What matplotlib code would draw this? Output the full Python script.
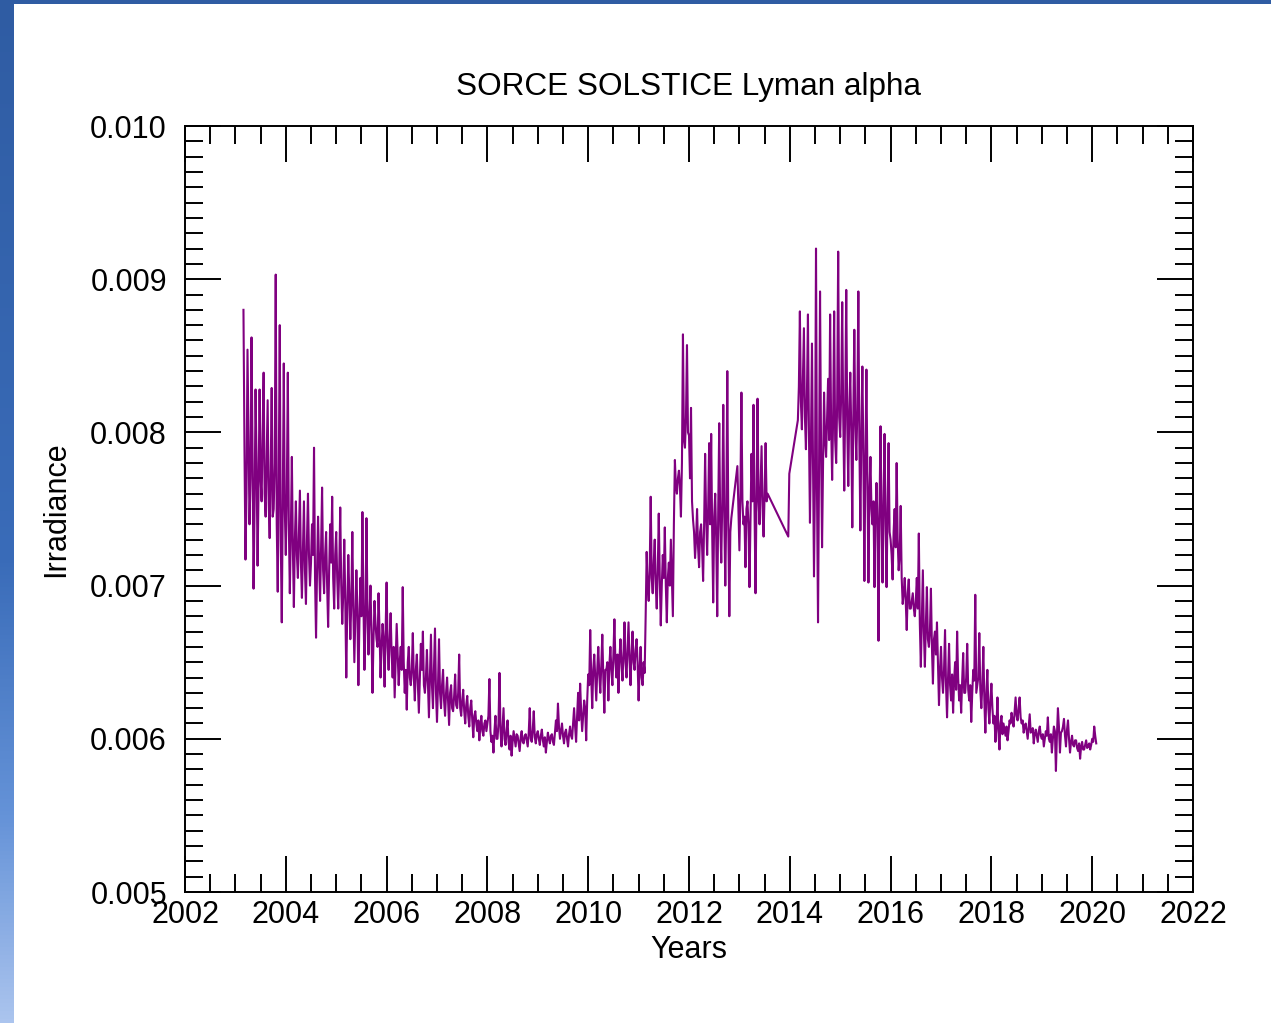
import numpy as np
import matplotlib.pyplot as plt
from matplotlib.colors import LinearSegmentedColormap
from matplotlib.ticker import MultipleLocator, FormatStrFormatter

# Lyman alpha irradiance (units of 1e-3), sampled every 0.02 yr from each block start
step = 0.02

irr_2003 = [8.80, 7.90, 7.17, 7.60, 8.54, 7.95, 7.40, 7.70, 8.62, 7.85, 6.98, 7.50, 8.28, 7.80,
            7.13, 7.65, 8.28, 7.70, 7.55, 8.00, 8.39, 7.60, 7.45, 7.85, 8.21, 7.55, 7.31, 7.75,
            8.29, 7.45, 7.50, 7.80, 9.03, 7.40, 6.96, 7.70, 8.70, 7.30, 6.76, 7.55, 8.45, 7.50]
irr_2004 = [7.20, 7.60, 8.39, 7.40, 6.95, 7.35, 7.84, 7.25, 6.86, 7.30, 7.55, 7.20, 7.05, 7.35,
            7.62, 7.15, 6.92, 7.25, 7.55, 7.10, 6.88, 7.30, 7.60, 7.20, 7.00, 7.15, 7.40, 7.20,
            7.90, 7.05, 6.66, 7.10, 7.45, 7.15, 6.90, 7.25, 7.64, 7.10, 6.95, 7.20, 7.35, 7.00,
            6.73, 7.10, 7.40, 7.15, 7.58, 7.05, 6.85, 7.20]
irr_2005 = [7.35, 7.05, 6.85, 7.10, 7.51, 7.00, 6.75, 6.95, 7.30, 6.90, 6.40, 6.85, 7.20, 6.95,
            6.65, 6.90, 7.35, 6.85, 6.50, 6.80, 7.10, 6.85, 6.35, 6.75, 7.05, 6.80, 7.48, 6.90,
            6.45, 6.75, 7.44, 6.85, 6.55, 6.80, 7.00, 6.70, 6.30, 6.65, 6.90, 6.75, 6.65, 6.60,
            6.95, 6.70, 6.40, 6.60, 6.75, 6.65, 6.34, 6.70]
irr_2006 = [7.02, 6.60, 6.45, 6.65, 6.82, 6.55, 6.40, 6.60, 6.27, 6.50, 6.75, 6.55, 6.35, 6.50,
            6.60, 6.45, 6.99, 6.50, 6.30, 6.45, 6.19, 6.50, 6.60, 6.40, 6.35, 6.45, 6.69, 6.40,
            6.25, 6.45, 6.55, 6.35, 6.17, 6.40, 6.62, 6.45, 6.70, 6.35, 6.30, 6.40, 6.58, 6.35,
            6.14, 6.40, 6.68, 6.35, 6.20, 6.45, 6.72, 6.30]
irr_2007 = [6.11, 6.35, 6.65, 6.30, 6.20, 6.35, 6.45, 6.25, 6.15, 6.30, 6.40, 6.25, 6.09, 6.30,
            6.35, 6.20, 6.18, 6.28, 6.42, 6.22, 6.20, 6.30, 6.55, 6.20, 6.15, 6.25, 6.32, 6.18,
            6.10, 6.22, 6.28, 6.15, 6.08, 6.20, 6.25, 6.12, 6.01, 6.15, 6.18, 6.10, 6.05, 6.12,
            5.99, 6.08, 6.15, 6.05, 6.02, 6.10, 6.12, 6.05]
irr_2008 = [6.10, 6.15, 6.39, 6.05, 5.98, 6.02, 5.91, 6.05, 6.15, 6.00, 6.00, 6.10, 6.43, 6.05,
            5.95, 6.08, 6.20, 6.00, 5.96, 6.05, 6.12, 5.98, 5.93, 6.02, 5.89, 5.98, 6.05, 6.00,
            5.95, 6.03, 6.02, 5.97, 5.92, 6.01, 6.05, 5.98, 5.97, 6.02, 6.03, 5.99, 5.95, 6.04,
            6.20, 6.00, 5.98, 6.06, 6.18, 6.01, 5.97, 6.03]
irr_2009 = [6.05, 6.00, 5.96, 6.02, 6.06, 5.99, 5.95, 6.01, 5.91, 5.98, 6.04, 6.00, 5.97, 6.02,
            6.03, 5.98, 5.96, 6.04, 6.12, 6.05, 6.23, 6.08, 6.00, 6.05, 6.10, 6.02, 5.97, 6.04,
            6.06, 6.00, 5.95, 6.03, 6.08, 6.02, 6.00, 6.10, 6.20, 6.08, 5.98, 6.15, 6.30, 6.12,
            6.36, 6.18, 6.05, 6.15, 6.25, 6.20, 5.99, 6.25]
irr_2010 = [6.42, 6.35, 6.71, 6.40, 6.20, 6.45, 6.55, 6.40, 6.25, 6.45, 6.60, 6.42, 6.30, 6.48,
            6.68, 6.40, 6.17, 6.45, 6.45, 6.50, 6.25, 6.48, 6.60, 6.45, 6.35, 6.55, 6.78, 6.50,
            6.40, 6.55, 6.30, 6.52, 6.65, 6.50, 6.38, 6.55, 6.76, 6.50, 6.40, 6.58, 6.76, 6.52,
            6.35, 6.55, 6.70, 6.50, 6.45, 6.58, 6.65, 6.50]
irr_2011 = [6.25, 6.45, 6.60, 6.40, 6.35, 6.50, 6.43, 6.80, 7.22, 7.00, 6.90, 7.10, 7.58, 7.05,
            6.95, 7.15, 7.30, 7.00, 6.85, 7.10, 7.47, 7.05, 6.74, 7.00, 7.20, 7.05, 7.38, 7.00,
            6.76, 7.05, 7.15, 7.00, 7.30, 7.05, 6.80, 7.40, 7.82, 7.65, 7.60, 7.70, 7.75, 7.65,
            7.45, 7.80, 8.64, 7.95, 7.90, 8.10, 8.57, 8.00]
irr_2012 = [7.98, 7.70, 8.16, 7.55, 7.43, 7.35, 7.18, 7.30, 7.50, 7.25, 7.12, 7.35, 7.40, 7.25,
            7.03, 7.40, 7.86, 7.45, 7.20, 7.50, 7.93, 7.40, 7.99, 7.35, 6.89, 7.45, 7.60, 7.30,
            6.80, 7.50, 8.06, 7.40, 7.15, 7.55, 8.18, 7.45, 7.00, 7.50, 8.40, 7.40, 6.80, 7.35,
            7.44]
irr_2013 = [7.78, 7.50, 7.23, 7.60, 8.26, 7.55, 7.40, 7.45, 7.12, 7.50, 7.55, 7.40, 6.99, 7.45,
            7.86, 7.55, 8.18, 7.50, 6.95, 7.60, 8.22, 7.55, 7.40, 7.65, 7.91, 7.50, 7.32, 7.60,
            7.93, 7.55, 7.60]
irr_2014 = [8.08, 8.30, 8.79, 8.20, 8.02, 8.35, 8.68, 8.10, 7.89, 8.25, 8.77, 8.00, 7.41, 7.95,
            8.58, 7.80, 7.06, 7.70, 9.20, 7.60, 6.76, 7.75, 8.92, 7.90, 7.25, 7.80, 8.26, 7.95,
            7.84, 8.10, 8.35, 7.95, 8.77, 8.05, 7.69, 8.10, 8.79, 7.95, 7.80, 8.20, 9.18, 8.10]
irr_2015 = [7.97, 8.25, 8.85, 8.10, 7.62, 8.20, 8.93, 8.05, 7.65, 8.15, 8.39, 8.00, 7.38, 8.10,
            8.67, 8.05, 7.82, 8.15, 8.92, 7.95, 7.36, 8.00, 8.43, 7.85, 7.03, 7.80, 8.41, 7.70,
            7.02, 7.60, 7.84, 7.50, 7.40, 7.55, 6.99, 7.45, 7.67, 7.40, 6.64, 7.50, 8.04, 7.45,
            7.02, 7.55, 7.99, 7.40, 6.99, 7.50, 7.93, 7.35]
irr_2016 = [7.30, 7.20, 7.04, 7.35, 7.50, 7.25, 7.80, 7.30, 7.10, 7.20, 7.52, 7.05, 6.88, 6.95,
            7.05, 6.90, 6.71, 6.95, 7.04, 6.85, 6.85, 6.90, 6.95, 6.85, 6.80, 6.90, 7.05, 6.85,
            7.34, 6.75, 6.47, 6.80, 7.10, 6.70, 6.47, 6.75, 6.99, 6.65, 6.60, 6.70, 6.98, 6.60,
            6.36, 6.65, 6.70, 6.55, 6.76, 6.50, 6.22, 6.45]
irr_2017 = [6.60, 6.40, 6.30, 6.45, 6.71, 6.35, 6.14, 6.40, 6.62, 6.35, 6.25, 6.42, 6.17, 6.38,
            6.50, 6.32, 6.70, 6.40, 6.25, 6.35, 6.17, 6.38, 6.56, 6.30, 6.30, 6.40, 6.62, 6.32,
            6.25, 6.35, 6.11, 6.30, 6.45, 6.38, 6.94, 6.30, 6.35, 6.40, 6.69, 6.32, 6.20, 6.35,
            6.60, 6.25, 6.04, 6.30, 6.45, 6.20, 6.10, 6.25]
irr_2018 = [6.36, 6.20, 6.10, 6.15, 5.98, 6.08, 6.27, 6.05, 5.93, 6.10, 6.15, 6.03, 6.10, 6.06,
            6.02, 6.08, 5.99, 6.05, 6.12, 6.10, 6.17, 6.12, 6.08, 6.18, 6.27, 6.15, 6.12, 6.20,
            6.27, 6.14, 6.10, 6.12, 6.04, 6.08, 6.10, 6.05, 6.00, 6.08, 6.16, 6.04, 6.05, 6.07,
            5.97, 6.03, 6.06, 6.02, 5.98, 6.05, 6.08, 6.02]
irr_2019 = [6.00, 6.03, 5.95, 6.00, 6.05, 6.02, 6.14, 6.00, 5.98, 6.03, 5.91, 6.00, 6.08, 6.05,
            5.79, 6.02, 6.20, 6.08, 5.91, 6.04, 6.05, 6.08, 6.13, 6.02, 5.95, 6.06, 6.12, 6.00,
            5.91, 5.98, 6.02, 5.96, 5.95, 5.99, 5.99, 5.94, 5.92, 5.97, 5.87, 5.95, 5.98, 5.93,
            5.93, 5.96, 5.99, 5.94, 5.95, 5.97, 5.93, 5.96]
irr_2020 = [6.00, 5.98, 6.08, 6.02, 5.97]

# two isolated points in the late-2013 data gap
gap_years = [2013.97, 2013.99]
gap_irr = [7.32, 7.73]

blocks = [
    (2003.16, irr_2003), (2004.00, irr_2004), (2005.00, irr_2005), (2006.00, irr_2006),
    (2007.00, irr_2007), (2008.00, irr_2008), (2009.00, irr_2009), (2010.00, irr_2010),
    (2011.00, irr_2011), (2012.00, irr_2012), (2012.96, irr_2013),
    (2014.16, irr_2014), (2015.00, irr_2015), (2016.00, irr_2016), (2017.00, irr_2017),
    (2018.00, irr_2018), (2019.00, irr_2019), (2020.00, irr_2020),
]

years, irr = [], []
for start, vals in blocks:
    if start == 2014.16:
        years.extend(gap_years)
        irr.extend(gap_irr)
    years.extend(start + step * np.arange(len(vals)))
    irr.extend(vals)
years = np.array(years)
irr = np.array(irr) * 1e-3

plt.rcParams['font.family'] = ['Liberation Sans', 'DejaVu Sans']

fig = plt.figure(figsize=(12.71, 10.23), dpi=100)

# blue frame: gradient strip on the left, solid band along the top
edge_cmap = LinearSegmentedColormap.from_list(
    'edge', [(0, '#2f5ca3'), (0.55, '#3a6cb9'), (0.8, '#6593d8'), (1.0, '#abc4ee')])
strip = fig.add_axes([0, 0, 13 / 1271, 1])
strip.imshow(np.linspace(0, 1, 256).reshape(-1, 1), aspect='auto', cmap=edge_cmap)
strip.axis('off')
top = fig.add_axes([0, 1 - 4 / 1023, 1, 4 / 1023])
top.set_facecolor('#2f5ca3')
top.set_xticks([])
top.set_yticks([])
for s in top.spines.values():
    s.set_visible(False)

ax = fig.add_axes([185 / 1271, 1 - 892 / 1023, 1008 / 1271, 766 / 1023])
ax.plot(years, irr, color='purple', linewidth=1.5)

ax.set_xlim(2002, 2022)
ax.set_ylim(0.005, 0.010)
ax.xaxis.set_major_locator(MultipleLocator(2))
ax.xaxis.set_minor_locator(MultipleLocator(0.5))
ax.yaxis.set_major_locator(MultipleLocator(0.001))
ax.yaxis.set_minor_locator(MultipleLocator(0.0001))
ax.yaxis.set_major_formatter(FormatStrFormatter('%.3f'))

ax.tick_params(which='both', direction='in', top=True, right=True, width=1.4, colors='black')
ax.tick_params(which='major', length=26, labelsize=22)
ax.tick_params(axis='x', which='major', pad=6)
ax.tick_params(axis='y', which='major', pad=13)
ax.tick_params(which='minor', length=13)
for s in ax.spines.values():
    s.set_linewidth(1.4)

ax.set_title('SORCE SOLSTICE Lyman alpha', fontsize=22.7, pad=22)
ax.set_xlabel('Years', fontsize=22, labelpad=3)
ax.set_ylabel('Irradiance', fontsize=22, labelpad=14)

fig.savefig('out.png', dpi=100)
